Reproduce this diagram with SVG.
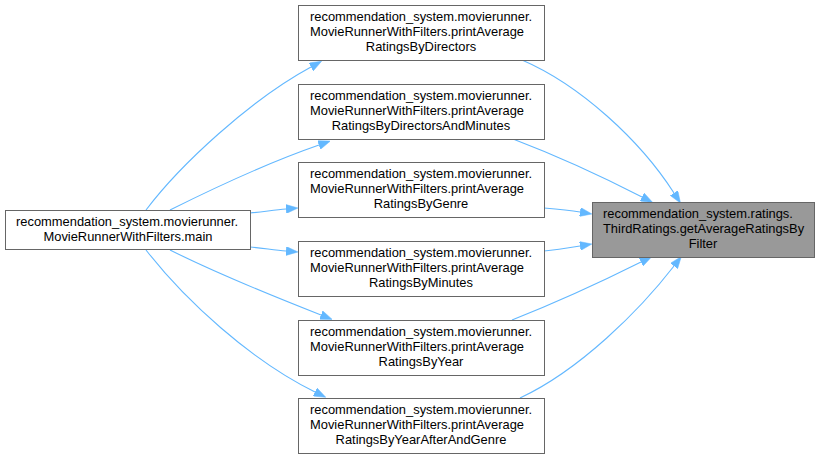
<svg xmlns="http://www.w3.org/2000/svg" width="820" height="459" viewBox="0 0 820 459">
<defs>
<style>
.box{fill:#ffffff;stroke:#666666;stroke-width:1}
.hl{fill:#999999;stroke:#666666;stroke-width:1}
text{font-family:"Liberation Sans",Arial,sans-serif;font-size:12.9px;fill:#000000}
.m{text-anchor:middle}
.e{fill:none;stroke:#63b8ff;stroke-width:1.1}
</style>
<marker id="ah" markerUnits="userSpaceOnUse" markerWidth="12" markerHeight="9" viewBox="0 0 12 9" refX="0" refY="4.5" orient="auto">
<path d="M0,0 L12,4.5 L0,9 Z" fill="#63b8ff" stroke="#63b8ff" stroke-width="0.5"/>
</marker>
</defs>
<rect width="820" height="459" fill="#ffffff"/>
<g id="edges">
<path class="e" marker-end="url(#ah)" d="M146,210 C180,165 250,100 311,67"/>
<path class="e" marker-end="url(#ah)" d="M170,210 C210,190 270,162 319,145"/>
<path class="e" marker-end="url(#ah)" d="M250,213 C262,212 274,210 286,209"/>
<path class="e" marker-end="url(#ah)" d="M250,247 C262,248 274,250 286,251"/>
<path class="e" marker-end="url(#ah)" d="M170,250 C210,270 270,295 321,315"/>
<path class="e" marker-end="url(#ah)" d="M146,250 C185,300 250,360 315,392"/>
<path class="e" marker-end="url(#ah)" d="M522,60 C580,85 640,140 674,193"/>
<path class="e" marker-end="url(#ah)" d="M513,139 C555,155 605,178 642,197"/>
<path class="e" marker-end="url(#ah)" d="M544,208 C556,209 568,210 580,212"/>
<path class="e" marker-end="url(#ah)" d="M544,251 C556,250 568,248 580,246"/>
<path class="e" marker-end="url(#ah)" d="M512,320 C555,303 605,280 641,262"/>
<path class="e" marker-end="url(#ah)" d="M520,398 C580,370 640,310 674,266"/>
</g>
<g id="node_main">
<rect class="box" x="5.5" y="210.5" width="245" height="39"/>
<text x="16" y="226">recommendation_system.movierunner.</text>
<text class="m" x="128" y="241">MovieRunnerWithFilters.main</text>
</g>
<g id="node_directors">
<rect class="box" x="298.5" y="5.5" width="246" height="55"/>
<text x="310" y="21">recommendation_system.movierunner.</text>
<text x="310" y="36">MovieRunnerWithFilters.printAverage</text>
<text class="m" x="421" y="51">RatingsByDirectors</text>
</g>
<g id="node_dirmin">
<rect class="box" x="298.5" y="84.5" width="246" height="55"/>
<text x="310" y="100">recommendation_system.movierunner.</text>
<text x="310" y="115">MovieRunnerWithFilters.printAverage</text>
<text class="m" x="421" y="130">RatingsByDirectorsAndMinutes</text>
</g>
<g id="node_genre">
<rect class="box" x="298.5" y="162.5" width="246" height="55"/>
<text x="310" y="178">recommendation_system.movierunner.</text>
<text x="310" y="193">MovieRunnerWithFilters.printAverage</text>
<text class="m" x="421" y="208">RatingsByGenre</text>
</g>
<g id="node_minutes">
<rect class="box" x="298.5" y="241.5" width="246" height="55"/>
<text x="310" y="257">recommendation_system.movierunner.</text>
<text x="310" y="272">MovieRunnerWithFilters.printAverage</text>
<text class="m" x="421" y="287">RatingsByMinutes</text>
</g>
<g id="node_year">
<rect class="box" x="298.5" y="320.5" width="246" height="55"/>
<text x="310" y="336">recommendation_system.movierunner.</text>
<text x="310" y="351">MovieRunnerWithFilters.printAverage</text>
<text class="m" x="421" y="366">RatingsByYear</text>
</g>
<g id="node_yeargenre">
<rect class="box" x="298.5" y="398.5" width="246" height="55"/>
<text x="310" y="414">recommendation_system.movierunner.</text>
<text x="310" y="429">MovieRunnerWithFilters.printAverage</text>
<text class="m" x="421" y="444">RatingsByYearAfterAndGenre</text>
</g>
<g id="node_target">
<rect class="hl" x="592.5" y="202.5" width="222" height="55"/>
<text x="603" y="218">recommendation_system.ratings.</text>
<text x="603" y="233">ThirdRatings.getAverageRatingsBy</text>
<text class="m" x="703" y="248">Filter</text>
</g>
</svg>
